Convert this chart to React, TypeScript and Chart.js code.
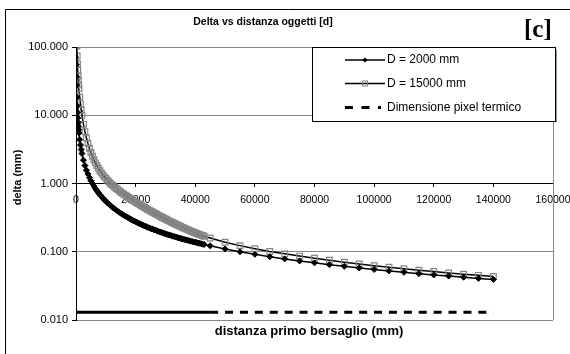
import React, { useEffect, useRef } from 'react';
import { Chart, registerables } from 'chart.js';

Chart.register(...registerables);

const CHART_TITLE = 'Delta vs distanza oggetti [d]';
const PANEL_LABEL = '[c]';
const X_TITLE = 'distanza primo bersaglio (mm)';
const Y_TITLE = 'delta (mm)';
const SERIES_NAMES = ['D = 2000 mm', 'D = 15000 mm', 'Dimensione pixel termico'];

const distances = [
  50, 100, 150, 200, 300, 400, 500, 600, 700, 800, 900, 1000, 1250, 1500, 1750, 2000, 2500, 3000, 3500, 4000, 4500, 5000,
  5500, 6000, 6500, 7000, 7500, 8000, 8500, 9000, 9500, 10000, 10500, 11000, 11500, 12000, 12500, 13000, 13500, 14000,
  14500, 15000, 15500, 16000, 16500, 17000, 17500, 18000, 18500, 19000, 19500, 20000, 20500, 21000, 21500, 22000,
  22500, 23000, 23500, 24000, 24500, 25000, 25500, 26000, 26500, 27000, 27500, 28000, 28500, 29000, 29500, 30000,
  30500, 31000, 31500, 32000, 32500, 33000, 33500, 34000, 34500, 35000, 35500, 36000, 36500, 37000, 37500, 38000,
  38500, 39000, 39500, 40000, 40500, 41000, 41500, 42000, 42500, 43000,
  45000, 50000, 55000, 60000, 65000, 70000, 75000, 80000, 85000, 90000, 95000, 100000, 105000, 110000, 115000,
  120000, 125000, 130000, 135000, 140000,
];

const delta2000 = [
  110, 55.0, 36.7, 27.5, 18.3, 13.8, 11.0, 9.17, 7.86, 6.88, 6.11, 5.50, 4.40, 3.67, 3.14, 2.75, 2.20, 1.83, 1.57, 1.38, 1.22, 1.10,
  1.00, 0.917, 0.846, 0.786, 0.733, 0.688, 0.647, 0.611, 0.579, 0.550, 0.524, 0.500, 0.478, 0.458, 0.440, 0.423, 0.407, 0.393,
  0.379, 0.367, 0.355, 0.344, 0.333, 0.324, 0.314, 0.306, 0.297, 0.289, 0.282, 0.275, 0.268, 0.262, 0.256, 0.250,
  0.244, 0.239, 0.234, 0.229, 0.224, 0.220, 0.216, 0.212, 0.208, 0.204, 0.200, 0.196, 0.193, 0.190, 0.186, 0.183,
  0.180, 0.177, 0.175, 0.172, 0.169, 0.167, 0.164, 0.162, 0.159, 0.157, 0.155, 0.153, 0.151, 0.149, 0.147, 0.145,
  0.143, 0.141, 0.139, 0.138, 0.136, 0.134, 0.133, 0.131, 0.129, 0.128,
  0.122, 0.110, 0.100, 0.0917, 0.0846, 0.0786, 0.0733, 0.0688, 0.0647, 0.0611, 0.0579, 0.0550, 0.0524, 0.0500, 0.0478,
  0.0458, 0.0440, 0.0423, 0.0407, 0.0393,
];

const delta15000 = [
  720, 350, 227, 165, 103, 74.0, 56.8, 45.7, 37.9, 32.3, 28.0, 24.6, 18.6, 14.7, 11.9, 9.95, 7.36, 5.73, 4.64, 3.86, 3.29, 2.85,
  2.51, 2.23, 2.01, 1.83, 1.68, 1.54, 1.43, 1.34, 1.26, 1.19, 1.12, 1.06, 1.01, 0.965, 0.922, 0.882, 0.846, 0.812,
  0.781, 0.751, 0.724, 0.698, 0.674, 0.651, 0.629, 0.608, 0.588, 0.569, 0.551, 0.534, 0.518, 0.502, 0.487, 0.472,
  0.458, 0.445, 0.432, 0.420, 0.408, 0.396, 0.385, 0.374, 0.364, 0.354, 0.344, 0.335, 0.326, 0.318, 0.310, 0.302,
  0.294, 0.286, 0.279, 0.273, 0.266, 0.259, 0.253, 0.247, 0.241, 0.236, 0.230, 0.225, 0.220, 0.215, 0.210, 0.206,
  0.201, 0.197, 0.193, 0.189, 0.185, 0.182, 0.178, 0.175, 0.172, 0.169,
  0.159, 0.138, 0.123, 0.111, 0.101, 0.0933, 0.0864, 0.0804, 0.0751, 0.0704, 0.0663, 0.0626, 0.0593, 0.0564, 0.0537,
  0.0513, 0.0490, 0.0470, 0.0451, 0.0434,
];

const pixelDistances = [0, 45000, 140000];
const pixelDelta = [0.013, 0.013, 0.013];

const xTicks = [0, 20000, 40000, 60000, 80000, 100000, 120000, 140000, 160000];
const yTicks = [0.01, 0.1, 1, 10, 100];

const FONT = '"Liberation Sans", Arial, Helvetica, sans-serif';
const SERIF = '"Liberation Serif", "Times New Roman", serif';
const GRID = '#868686';
const SQUARE_GRAY = '#858585';

function drawDiamond(ctx: CanvasRenderingContext2D, x: number, y: number, r: number) {
  ctx.beginPath();
  ctx.moveTo(x, y - r);
  ctx.lineTo(x + r, y);
  ctx.lineTo(x, y + r);
  ctx.lineTo(x - r, y);
  ctx.closePath();
  ctx.fillStyle = '#000';
  ctx.fill();
}

const decorPlugin = {
  id: 'decor',
  beforeDraw(chart: any) {
    const { ctx, width, height } = chart;
    ctx.save();
    ctx.fillStyle = '#fff';
    ctx.fillRect(0, 0, width, height);
    ctx.strokeStyle = '#000';
    ctx.lineWidth = 1;
    ctx.beginPath();
    ctx.moveTo(5.5, height + 2);
    ctx.lineTo(5.5, 9.5);
    ctx.lineTo(width + 2, 9.5);
    ctx.stroke();
    ctx.restore();
  },
  beforeDatasetsDraw(chart: any) {
    const { ctx, chartArea } = chart;
    ctx.save();
    ctx.strokeStyle = GRID;
    ctx.lineWidth = 1;
    const x = Math.round(chartArea.right) + 0.5;
    ctx.beginPath();
    ctx.moveTo(x, chartArea.top);
    ctx.lineTo(x, chartArea.bottom);
    ctx.stroke();
    ctx.restore();
  },
  afterDraw(chart: any) {
    const { ctx } = chart;
    ctx.save();
    ctx.fillStyle = '#000';
    ctx.font = `bold 10.5px ${FONT}`;
    ctx.textAlign = 'center';
    ctx.textBaseline = 'middle';
    ctx.fillText(CHART_TITLE, 263, 22.5);
    ctx.font = `bold 25px ${SERIF}`;
    ctx.textAlign = 'left';
    ctx.textBaseline = 'alphabetic';
    ctx.fillText(PANEL_LABEL, 524, 37);
    ctx.font = `bold 13px ${FONT}`;
    ctx.textAlign = 'center';
    ctx.textBaseline = 'middle';
    ctx.fillText(X_TITLE, 309, 331.5);
    ctx.save();
    ctx.translate(17.5, 177.5);
    ctx.rotate(-Math.PI / 2);
    ctx.font = `bold 11px ${FONT}`;
    ctx.fillText(Y_TITLE, 0, 0);
    ctx.restore();

    const lx = 312.5, ly = 47.5, lw = 243, lh = 74;
    ctx.fillStyle = '#fff';
    ctx.fillRect(lx, ly, lw, lh);
    ctx.strokeStyle = '#000';
    ctx.lineWidth = 1;
    ctx.strokeRect(lx, ly, lw, lh);
    ctx.strokeStyle = '#9a9a9a';
    ctx.beginPath();
    ctx.moveTo(lx + lw + 1, ly + 2);
    ctx.lineTo(lx + lw + 1, ly + lh + 1);
    ctx.stroke();

    const rows = [60, 83.5, 107.5];
    const x0 = 345, x1 = 385, mx = 365;
    ctx.strokeStyle = '#000';
    ctx.lineWidth = 1.5;
    ctx.beginPath();
    ctx.moveTo(x0, rows[0]);
    ctx.lineTo(x1, rows[0]);
    ctx.stroke();
    drawDiamond(ctx, mx, rows[0], 2.5);
    ctx.beginPath();
    ctx.moveTo(x0, rows[1]);
    ctx.lineTo(x1, rows[1]);
    ctx.stroke();
    ctx.strokeStyle = SQUARE_GRAY;
    ctx.lineWidth = 1;
    ctx.strokeRect(mx - 2.5, rows[1] - 2.5, 5, 5);
    ctx.strokeStyle = '#000';
    ctx.lineWidth = 3;
    ctx.setLineDash([8, 8.5]);
    ctx.beginPath();
    ctx.moveTo(x0, rows[2]);
    ctx.lineTo(381, rows[2]);
    ctx.stroke();
    ctx.setLineDash([]);

    ctx.fillStyle = '#000';
    ctx.font = `12px ${FONT}`;
    ctx.textAlign = 'left';
    ctx.textBaseline = 'middle';
    SERIES_NAMES.forEach((name, i) => ctx.fillText(name, 387, rows[i]));
    ctx.restore();
  },
};

export default function App() {
  const ref = useRef<HTMLCanvasElement>(null);
  useEffect(() => {
    document.body.style.margin = '0';
    const canvas = ref.current;
    if (!canvas) return;
    const chart = new Chart(canvas, {
      type: 'line',
      data: {
        datasets: [
          {
            label: SERIES_NAMES[0],
            data: distances.map((x, i) => ({ x, y: delta2000[i] })),
            borderColor: '#000',
            borderWidth: 1.5,
            pointStyle: 'rectRot',
            pointRadius: 3,
            pointBackgroundColor: '#000',
            pointBorderColor: '#000',
            pointBorderWidth: 1,
            tension: 0,
          },
          {
            label: SERIES_NAMES[1],
            data: distances.map((x, i) => ({ x, y: delta15000[i] })),
            borderColor: '#000',
            borderWidth: 1.5,
            pointStyle: 'rect',
            pointRadius: 4,
            pointBackgroundColor: 'rgba(255,255,255,0)',
            pointBorderColor: SQUARE_GRAY,
            pointBorderWidth: 1.2,
            tension: 0,
          },
          {
            label: SERIES_NAMES[2],
            data: pixelDistances.map((x, i) => ({ x, y: pixelDelta[i] })),
            borderColor: '#000',
            borderWidth: 3,
            borderCapStyle: 'butt',
            pointRadius: 0,
            tension: 0,
            segment: {
              borderDash: (c: any) => (pixelDistances[c.p0DataIndex] >= 45000 ? [8, 6.9] : []),
            },
          },
        ] as any,
      },
      options: {
        responsive: false,
        animation: false,
        events: [],
        layout: { padding: { left: 0, right: 17, top: 47, bottom: 34 } },
        plugins: {
          legend: { display: false },
          title: { display: false },
          tooltip: { enabled: false },
        },
        scales: {
          x: {
            type: 'linear',
            min: 0,
            max: 160000,
            position: { y: 1 } as any,
            afterBuildTicks: (s: any) => {
              s.ticks = xTicks.map((v) => ({ value: v }));
            },
            afterFit: (s: any) => {
              s.height = 0;
              s.paddingRight = 0;
              s.paddingLeft = 0;
            },
            ticks: {
              callback: (v: any) => String(v),
              font: { size: 10.5, family: FONT },
              color: '#000',
              padding: 7,
              maxRotation: 0,
              autoSkip: false,
            },
            grid: { drawOnChartArea: false, drawTicks: true, tickLength: 3, tickColor: '#000' },
            border: { display: true, color: '#000', width: 1 },
          },
          y: {
            type: 'logarithmic',
            min: 0.01,
            max: 100,
            afterBuildTicks: (s: any) => {
              s.ticks = yTicks.map((v) => ({ value: v }));
            },
            afterFit: (s: any) => {
              s.width = 76;
            },
            ticks: {
              callback: (v: any) => Number(v).toFixed(3),
              font: { size: 11, family: FONT },
              color: '#000',
              padding: 4,
              autoSkip: false,
            },
            grid: {
              color: (c: any) => (c.tick && c.tick.value === 1 ? '#000' : GRID),
              tickColor: '#000',
              tickLength: 4,
            },
            border: { display: true, color: '#000', width: 1 },
          },
        } as any,
      },
      plugins: [decorPlugin],
    });
    return () => chart.destroy();
  }, []);
  return (
    <div style={{ width: 570, height: 354 }}>
      <canvas ref={ref} width={570} height={354} style={{ display: 'block' }} />
    </div>
  );
}
